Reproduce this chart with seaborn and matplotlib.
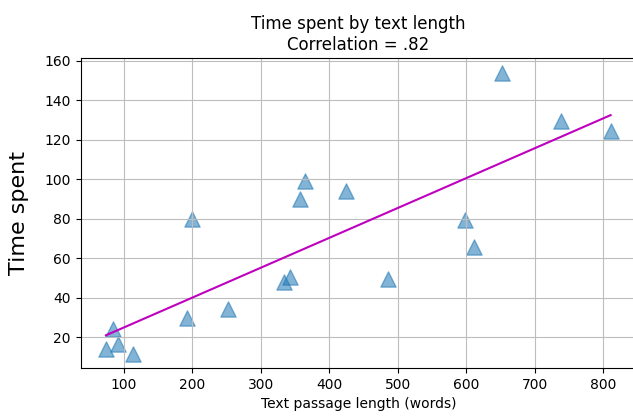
import numpy as np
import matplotlib
matplotlib.use("Agg")
import matplotlib.pyplot as plt
import seaborn as sns

# words per text passage and time spent
text_length = [74, 84, 91, 113, 192, 200, 252, 334, 343, 358, 364, 425, 486, 599, 611, 653, 738, 811]
time_spent = [14.2, 24.1, 16.6, 11.5, 29.9, 79.7, 34.2, 47.7, 50.3, 89.8, 99.0, 94.0, 49.7, 79.2, 65.7, 154.1, 129.7, 124.5]

fig = plt.figure(figsize=(6.33, 4.16), dpi=100)
ax = fig.add_axes([0.1275, 0.1154, 0.877, 0.744])

sns.regplot(x=np.array(text_length), y=np.array(time_spent), ax=ax, ci=None, marker='^',
            scatter_kws={'s': 120, 'alpha': 0.55, 'color': 'C0'},
            line_kws={'color': 'm', 'lw': 1.5})

ax.grid(True, color='#bdbdbd')
ax.set_title('Time spent by text length\nCorrelation = .82', fontsize=12)
ax.set_xlabel('Text passage length (words)', fontsize=10)
ax.set_ylabel('Time spent', fontsize=16, labelpad=11)

fig.savefig('out.png', dpi=100)
